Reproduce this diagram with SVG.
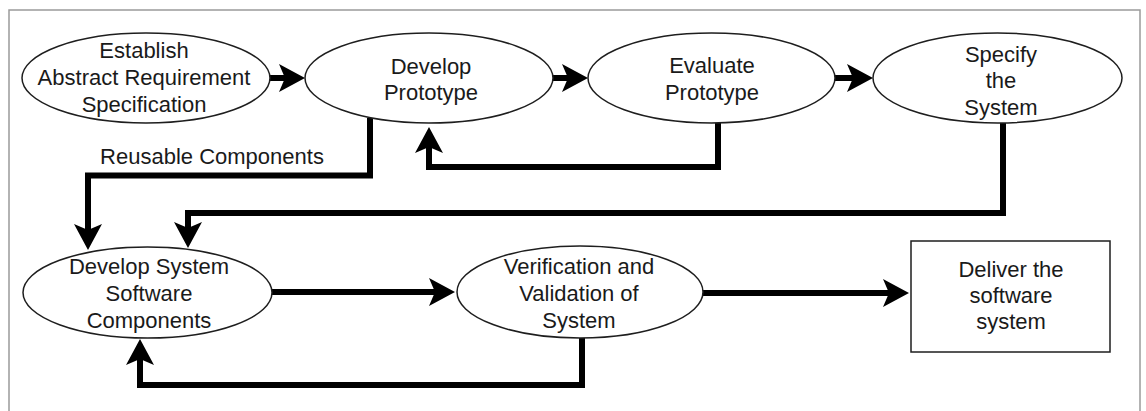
<svg xmlns="http://www.w3.org/2000/svg" width="1146" height="411" viewBox="0 0 1146 411">
  <style>
    .frame { fill: #ffffff; stroke: #9a9a9a; stroke-width: 1.5; }
    .node { fill: #ffffff; stroke: #1e1e1e; stroke-width: 1.5; }
    .link { fill: none; stroke: #000000; stroke-width: 6; stroke-linejoin: miter; stroke-linecap: butt; }
    .label { font-family: "Liberation Sans", Arial, sans-serif; font-size: 22px; fill: #1a1a1a; text-anchor: middle; }
  </style>
  <defs>
    <marker id="head" markerUnits="userSpaceOnUse" markerWidth="28" markerHeight="30" refX="6" refY="14" orient="auto">
      <path d="M0,0 L26,14 L0,28 L6,14 Z" fill="#000000"/>
    </marker>
  </defs>

  <rect width="1146" height="411" fill="#ffffff"/>
  <rect class="frame" x="9" y="10" width="1131" height="420"/>

  <!-- connectors -->
  <g id="connectors">
    <line class="link" x1="268" y1="78" x2="285" y2="78" marker-end="url(#head)"/>
    <line class="link" x1="551" y1="78" x2="568" y2="78" marker-end="url(#head)"/>
    <line class="link" x1="833" y1="78" x2="853" y2="78" marker-end="url(#head)"/>
    <polyline class="link" points="370,118 370,175.5 88,175.5 88,230" marker-end="url(#head)"/>
    <polyline class="link" points="1003,120 1003,213 188,213 188,228" marker-end="url(#head)"/>
    <polyline class="link" points="718,120 718,167 429,167 429,147" marker-end="url(#head)"/>
    <line class="link" x1="270" y1="292" x2="435" y2="292" marker-end="url(#head)"/>
    <line class="link" x1="701" y1="293" x2="889" y2="293" marker-end="url(#head)"/>
    <polyline class="link" points="582,336 582,385 140,385 140,359" marker-end="url(#head)"/>
    <text class="label" x="212" y="164">Reusable Components</text>
  </g>

  <!-- nodes -->
  <g id="establish-spec">
    <ellipse class="node" cx="146" cy="78" rx="124" ry="45"/>
    <text class="label" x="144" y="58">Establish</text>
    <text class="label" x="144" y="85">Abstract Requirement</text>
    <text class="label" x="144" y="112">Specification</text>
  </g>

  <g id="develop-prototype">
    <ellipse class="node" cx="429" cy="78" rx="124" ry="45"/>
    <text class="label" x="431" y="74">Develop</text>
    <text class="label" x="431" y="100">Prototype</text>
  </g>

  <g id="evaluate-prototype">
    <ellipse class="node" cx="711.5" cy="78" rx="123.5" ry="45"/>
    <text class="label" x="712" y="73">Evaluate</text>
    <text class="label" x="712" y="100">Prototype</text>
  </g>

  <g id="specify-system">
    <ellipse class="node" cx="997.5" cy="78" rx="124.5" ry="45"/>
    <text class="label" x="1001" y="62">Specify</text>
    <text class="label" x="1001" y="88">the</text>
    <text class="label" x="1001" y="115">System</text>
  </g>

  <g id="develop-components">
    <ellipse class="node" cx="147.5" cy="292.5" rx="124.5" ry="45.5"/>
    <text class="label" x="149" y="274">Develop System</text>
    <text class="label" x="149" y="301">Software</text>
    <text class="label" x="149" y="328">Components</text>
  </g>

  <g id="verification-validation">
    <ellipse class="node" cx="580" cy="292" rx="123" ry="46"/>
    <text class="label" x="579" y="274">Verification and</text>
    <text class="label" x="579" y="301">Validation of</text>
    <text class="label" x="579" y="328">System</text>
  </g>

  <g id="deliver-system">
    <rect class="node" x="911" y="241" width="199" height="111"/>
    <text class="label" x="1011" y="277">Deliver the</text>
    <text class="label" x="1011" y="303">software</text>
    <text class="label" x="1011" y="329">system</text>
  </g>
</svg>
